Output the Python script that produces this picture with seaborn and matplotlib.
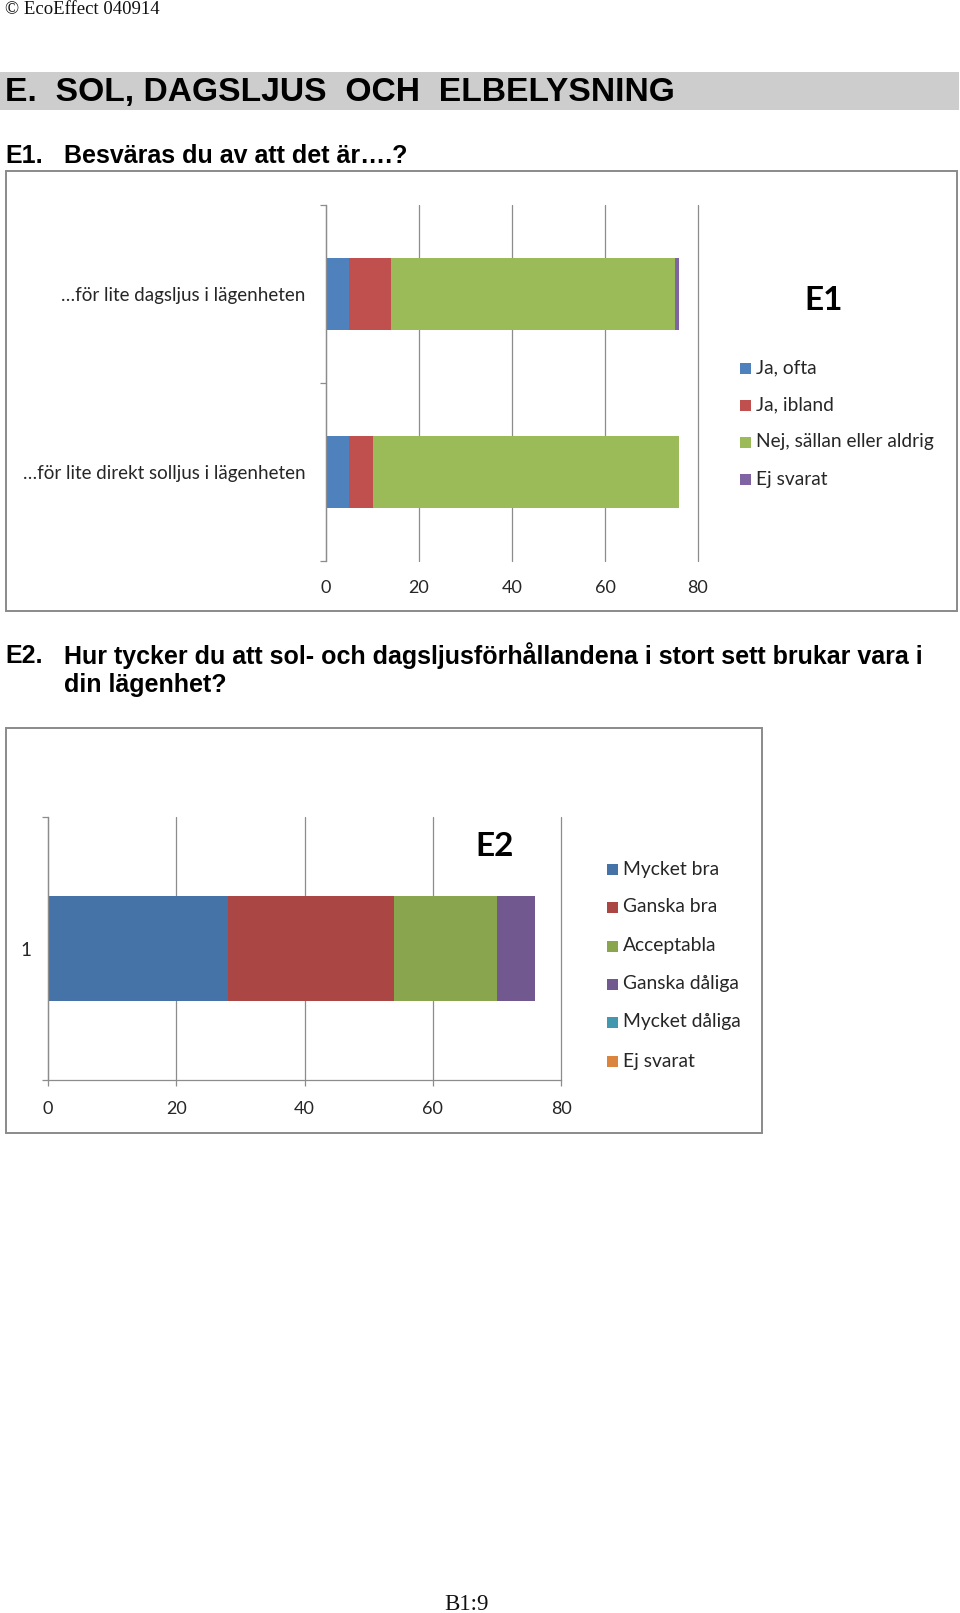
import matplotlib
matplotlib.use("Agg")
import matplotlib.pyplot as plt
from matplotlib.patches import Rectangle
import seaborn as sns
import pandas as pd
import numpy as np

# ---------------- data ----------------
e1_categories = ["…för lite dagsljus i lägenheten", "…för lite direkt solljus i lägenheten"]
e1_series = ["Ja, ofta", "Ja, ibland", "Nej, sällan eller aldrig", "Ej svarat"]
e1_ja_ofta = [5, 5]
e1_ja_ibland = [9, 5]
e1_nej = [61, 66]
e1_ej_svarat = [1, 0]
e1_colors = ["#4F81BD", "#C0504D", "#9BBB59", "#8064A2"]

e2_categories = ["1"]
e2_series = ["Mycket bra", "Ganska bra", "Acceptabla", "Ganska dåliga", "Mycket dåliga", "Ej svarat"]
e2_mycket_bra = [28]
e2_ganska_bra = [26]
e2_acceptabla = [16]
e2_ganska_daliga = [6]
e2_mycket_daliga = [0]
e2_ej_svarat = [0]
e2_colors = ["#4572A7", "#AA4643", "#89A54E", "#71588F", "#4198AF", "#DB843D"]

x_ticks = [0, 20, 40, 60, 80]

# ---------------- setup ----------------
sns.set_theme(style="white")
plt.rcParams["font.family"] = ["Lato", "DejaVu Sans"]

W, H = 960, 1613
fig = plt.figure(figsize=(W / 100, H / 100), dpi=100)
fig.patch.set_facecolor("white")


def fx(x):
    return x / W


def fy(y):
    return 1 - y / H


def box(x0, y0, x1, y1, **kw):
    fig.patches.append(Rectangle((fx(x0), fy(y1)), fx(x1) - fx(x0), fy(y0) - fy(y1),
                                 transform=fig.transFigure, **kw))


def add_axes_px(left, top, right, bottom):
    return fig.add_axes([fx(left), fy(bottom), fx(right) - fx(left), fy(top) - fy(bottom)])


def stacked(ax, categories, series, values, colors, width):
    df = pd.DataFrame({"cat": [c for c in categories for _ in series],
                       "series": [s for _ in categories for s in series],
                       "value": [values[j][i] for i in range(len(categories))
                                 for j in range(len(series))]})
    df["cum"] = df.groupby("cat", sort=False)["value"].cumsum()
    for s, col in reversed(list(zip(series, colors))):
        sub = df[df["series"] == s]
        sns.barplot(data=sub, x="cum", y="cat", order=categories, orient="h",
                    color=col, saturation=1, width=width, errorbar=None,
                    linewidth=0, ax=ax)
    ax.set_xlabel("")
    ax.set_ylabel("")


serif = ["Liberation Serif", "DejaVu Serif"]
arial = ["Liberation Sans", "DejaVu Sans"]

# ---------------- page texts ----------------
fig.text(fx(5), fy(9), "© EcoEffect 040914", family=serif, fontsize=13.5,
         va="center", ha="left", color="#111111")

box(0, 72, 959, 110, facecolor="#CDCDCD", edgecolor="none")
fig.text(fx(5), fy(92), "E.  SOL, DAGSLJUS  OCH  ELBELYSNING", family=arial,
         fontweight="bold", fontsize=24.2, va="center", ha="left", color="black")

fig.text(fx(5), fy(156), "E1.", family=arial, fontweight="bold", fontsize=18,
         va="center", ha="left", color="black")
fig.text(fx(64), fy(156), "Besväras du av att det är….?", family=arial, fontweight="bold",
         fontsize=18, va="center", ha="left", color="black")

fig.text(fx(5), fy(656), "E2.", family=arial, fontweight="bold", fontsize=18,
         va="center", ha="left", color="black")
fig.text(fx(64), fy(656),
         "Hur tycker du att sol- och dagsljusförhållandena i stort sett brukar vara i",
         family=arial, fontweight="bold", fontsize=18, va="center", ha="left", color="black")
fig.text(fx(64), fy(685), "din lägenhet?", family=arial, fontweight="bold", fontsize=18,
         va="center", ha="left", color="black")

fig.text(fx(467), fy(1604), "B1:9", family=serif, fontsize=16.5, va="center", ha="center",
         color="#111111")

# chart frames
box(6, 171, 957, 611, facecolor="none", edgecolor="#8A8A8A", linewidth=1.4)
box(6, 728, 762, 1133, facecolor="none", edgecolor="#8A8A8A", linewidth=1.4)

grid_col = "#8C8C8C"
text_col = "#262626"

# ---------------- E1 ----------------
ax1 = add_axes_px(326, 205, 698, 561)
stacked(ax1, e1_categories, e1_series,
        [e1_ja_ofta, e1_ja_ibland, e1_nej, e1_ej_svarat], e1_colors, 0.40)
ax1.set_xlim(0, 80)
ax1.set_ylim(1.5, -0.5)
ax1.set_xticks(x_ticks)
ax1.set_xticklabels([str(t) for t in x_ticks])
ax1.grid(axis="x", color=grid_col, linewidth=0.9)
ax1.grid(axis="y", visible=False)
ax1.set_axisbelow(True)
for side in ["top", "right", "bottom"]:
    ax1.spines[side].set_visible(False)
ax1.spines["left"].set_color(grid_col)
ax1.spines["left"].set_linewidth(0.9)
ax1.set_yticks([-0.5, 0.5, 1.5], minor=True)
ax1.tick_params(axis="y", which="major", length=0, pad=15, labelsize=13.5, labelcolor=text_col)
ax1.tick_params(axis="y", which="minor", length=4, color=grid_col, width=0.9, left=True)
ax1.tick_params(axis="x", length=0, pad=14, labelsize=13, labelcolor=text_col)
ax1.set_facecolor("none")
for gl in ax1.get_xgridlines():
    gl.set_clip_on(False)

fig.text(fx(824), fy(301), "E1", fontsize=24, fontweight="bold", va="center", ha="center",
         color="black")
leg_y1 = [368, 405, 442, 479]
for lab, col, y in zip(e1_series, e1_colors, leg_y1):
    box(740, y - 5.5, 751, y + 5.5, facecolor=col, edgecolor="none")
    fig.text(fx(756), fy(y), lab, fontsize=13.8, va="center", ha="left", color=text_col)

# ---------------- E2 ----------------
ax2 = add_axes_px(48, 817, 561, 1080)
stacked(ax2, e2_categories, e2_series,
        [e2_mycket_bra, e2_ganska_bra, e2_acceptabla, e2_ganska_daliga,
         e2_mycket_daliga, e2_ej_svarat], e2_colors, 0.40)
ax2.set_xlim(0, 80)
ax2.set_ylim(0.5, -0.5)
ax2.set_xticks(x_ticks)
ax2.set_xticklabels([str(t) for t in x_ticks])
ax2.grid(axis="x", color=grid_col, linewidth=0.9)
ax2.grid(axis="y", visible=False)
ax2.set_axisbelow(True)
for side in ["top", "right"]:
    ax2.spines[side].set_visible(False)
for side in ["left", "bottom"]:
    ax2.spines[side].set_color(grid_col)
    ax2.spines[side].set_linewidth(0.9)
ax2.set_yticks([-0.5, 0.5], minor=True)
ax2.tick_params(axis="y", which="major", length=0, pad=12, labelsize=13.5, labelcolor=text_col)
ax2.tick_params(axis="y", which="minor", length=4, color=grid_col, width=0.9, left=True)
ax2.tick_params(axis="x", length=4, color=grid_col, width=0.9, bottom=True, pad=11,
                labelsize=13, labelcolor=text_col)
ax2.set_facecolor("none")
for gl in ax2.get_xgridlines():
    gl.set_clip_on(False)

fig.text(fx(495), fy(846), "E2", fontsize=24, fontweight="bold", va="center", ha="center",
         color="black")
leg_y2 = [869, 907, 946, 984, 1022, 1061]
for lab, col, y in zip(e2_series, e2_colors, leg_y2):
    box(607, y - 5.5, 618, y + 5.5, facecolor=col, edgecolor="none")
    fig.text(fx(623), fy(y), lab, fontsize=13.9, va="center", ha="left", color=text_col)

fig.savefig("out.png", dpi=100, facecolor="white")
